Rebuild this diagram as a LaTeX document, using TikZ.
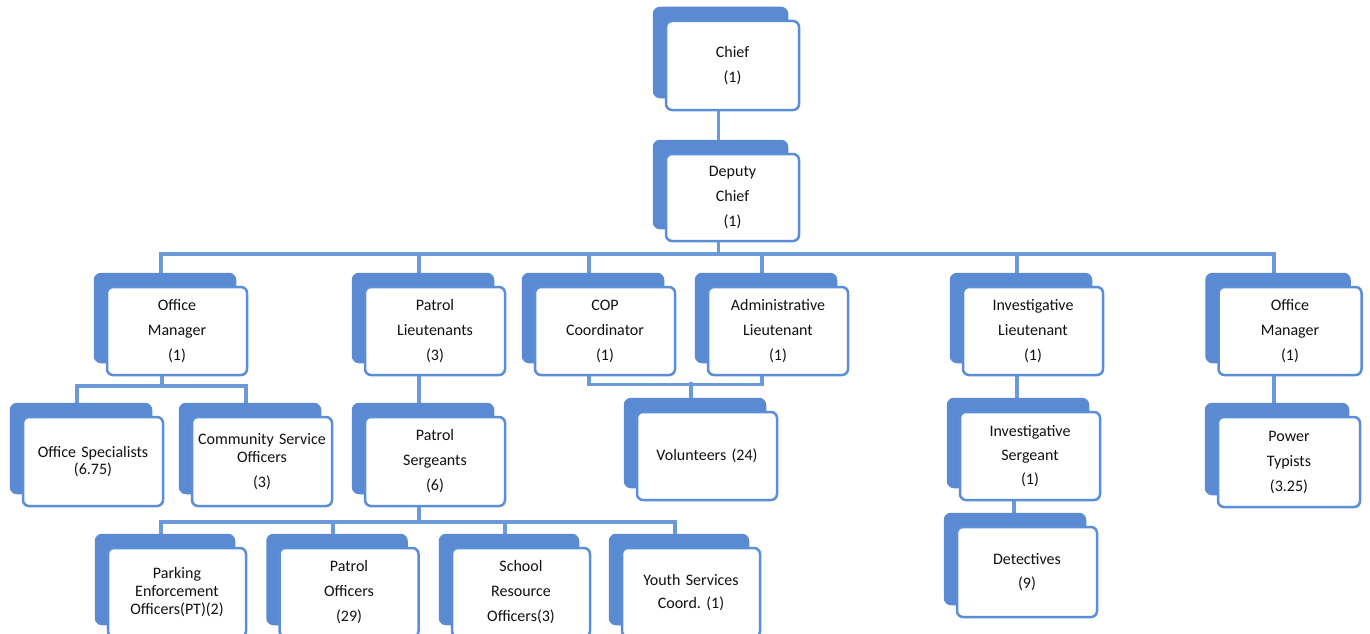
\documentclass[tikz,border=0pt]{standalone}
\usepackage{fontspec}
\setmainfont{Carlito}
\usetikzlibrary{shadows,calc}
\pgfdeclarelayer{background}
\pgfsetlayers{background,main}
\definecolor{backblue}{HTML}{5A8AD2}
\definecolor{edgeblue}{HTML}{5B8ED8}
\definecolor{linkblue}{HTML}{6C9AD9}
\definecolor{txt}{HTML}{111111}
\tikzset{
  orgbox/.style={draw=edgeblue, line width=2.5pt, fill=white, rounded corners=6pt,
    minimum width=140pt, minimum height=88pt, text width=136pt, align=center,
    inner sep=1pt, font=\fontsize{16}{25}\selectfont, text=txt,
    copy shadow={shadow xshift=-12pt, shadow yshift=13pt, fill=backblue, draw=backblue}},
  conn/.style={draw=linkblue, line width=3.5pt}
}
\begin{document}
\begin{tikzpicture}[x=1pt,y=-1pt]
\useasboundingbox (0,0) rectangle (1370,634);
\clip (0,0) rectangle (1370,634);
% nodes
\node[orgbox, minimum width=133pt, text width=129pt, minimum height=89pt] (chief) at (732.5,65.5) {Chief\\(1)};
\node[orgbox, minimum width=133pt, text width=129pt, minimum height=87pt] (deputy) at (732.5,197.5) {Deputy\\Chief\\(1)};
\node[orgbox] (om1) at (177,331) {Office\\Manager\\(1)};
\node[orgbox] (plt) at (435,331) {Patrol\\Lieutenants\\(3)};
\node[orgbox] (cop) at (605,331) {COP\\Coordinator\\(1)};
\node[orgbox] (adm) at (778,331) {Administrative\\Lieutenant\\(1)};
\node[orgbox] (ilt) at (1033,331) {Investigative\\Lieutenant\\(1)};
\node[orgbox, minimum width=143pt] (om2) at (1290,331) {Office\\Manager\\(1)};
\node[orgbox, minimum height=89pt] (os) at (93,461.5) {Office Specialists\\[-8pt](6.75)};
\node[orgbox, minimum height=89pt] (cso) at (262,461.5) {Community Service\\[-7pt]Officers\\(3)};
\node[orgbox, minimum height=89pt] (psg) at (435,461.5) {Patrol\\Sergeants\\(6)};
\node[orgbox] (vol) at (707,456) {Volunteers (24)};
\node[orgbox] (isg) at (1030,456) {Investigative\\[-1pt]Sergeant\\[-1pt](1)};
\node[orgbox, minimum width=142pt, minimum height=90pt] (pt) at (1289,462) {Power\\Typists\\(3.25)};
\node[orgbox, minimum height=90pt] (det) at (1027,572) {Detectives\\[-1pt](9)};
\node[orgbox, minimum width=138pt, minimum height=89pt] (pe) at (177,592.5) {Parking\\[-7pt]Enforcement\\[-7pt]Officers(PT)(2)};
\node[orgbox, minimum width=139pt, minimum height=89pt] (po) at (349,592.5) {Patrol\\Officers\\(29)};
\node[orgbox, minimum width=138pt, minimum height=89pt] (sro) at (521,592.5) {School\\Resource\\Officers(3)};
\node[orgbox, minimum width=138pt, minimum height=89pt] (ysc) at (691,592.5) {Youth Services\\[-2pt]Coord.\ (1)};
% connectors
\begin{pgfonlayer}{background}
\fill[white] (0,0) rectangle (1370,634);
\draw[conn] ($(chief.south)+(-14,0)$) -- ($(deputy.north)+(-14,-13)$);
\draw[conn] ($(deputy.south)+(-14,0)$) -- ++(0,14);
\draw[conn] ($(om1.north)+(-16,-13)$) -- ++(0,-19) -| ($(om2.north)+(-16,-13)$);
\draw[conn] ($(plt.north)+(-16,-13)$) -- ++(0,-19);
\draw[conn] ($(cop.north)+(-16,-13)$) -- ++(0,-19);
\draw[conn] ($(adm.north)+(-16,-13)$) -- ++(0,-19);
\draw[conn] ($(ilt.north)+(-16,-13)$) -- ++(0,-19);
\draw[conn] ($(om1.south)+(-15,0)$) -- ++(0,12);
\draw[conn] ($(os.north)+(-16,-13)$) -- ++(0,-17) -| ($(cso.north)+(-16,-13)$);
\draw[conn] ($(plt.south)+(-16,0)$) -- ($(psg.north)+(-16,-13)$);
\draw[conn] ($(psg.south)+(-16,0)$) -- ++(0,17);
\draw[conn] ($(pe.north)+(-16,-13)$) -- ++(0,-12) -| ($(ysc.north)+(-16,-13)$);
\draw[conn] ($(po.north)+(-16,-13)$) -- ++(0,-12);
\draw[conn] ($(sro.north)+(-16,-13)$) -- ++(0,-12);
\draw[conn] ($(cop.south)+(-16,0)$) -- ++(0,8) -| ($(adm.south)+(-16,0)$);
\draw[conn] ($(vol.north)+(-16,-13)$) -- ++(0,-16);
\draw[conn] ($(ilt.south)+(-16,0)$) -- ++(0,24);
\draw[conn] ($(isg.south)+(-16,0)$) -- ++(0,15);
\draw[conn] ($(om2.south)+(-16,0)$) -- ++(0,29);
\end{pgfonlayer}
\end{tikzpicture}
\end{document}
